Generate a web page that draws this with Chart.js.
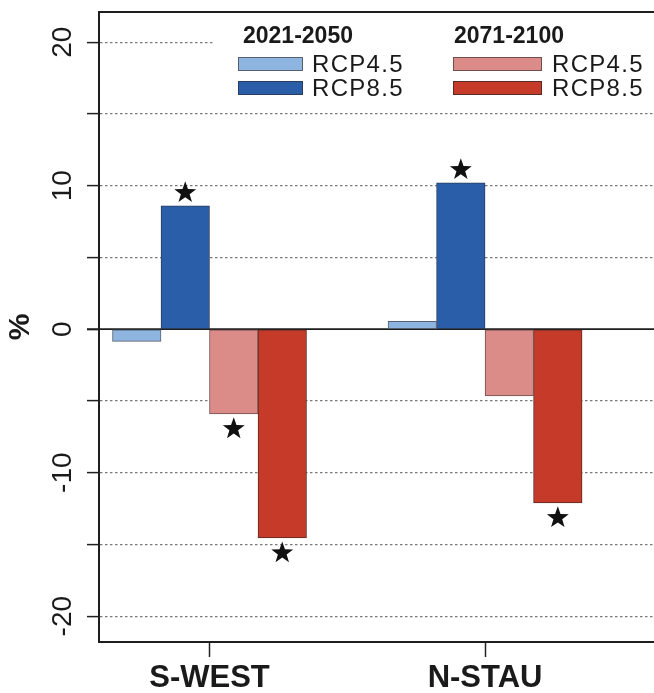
<!DOCTYPE html>
<html><head><meta charset="utf-8">
<script src="https://cdn.jsdelivr.net/npm/chart.js@4/dist/chart.umd.min.js"></script>
<style>
html,body{margin:0;padding:0;background:#fff;overflow:hidden;}
#wrap{width:654px;height:693px;overflow:hidden;position:relative;background:#fff;}
canvas{display:block;}
</style></head><body>
<div id="wrap"><canvas id="c" width="700" height="693"></canvas></div>
<script>
// ---- data ----
const regions = ['S-WEST', 'N-STAU'];
const periods = ['2021-2050', '2071-2100'];
const scenarios = ['RCP4.5', 'RCP8.5'];
const near45 = [-0.85, 0.55];
const near85 = [8.6, 10.2];
const far45 = [-5.9, -4.65];
const far85 = [-14.55, -12.1];
const sigNear45 = [false, false];
const sigNear85 = [true, true];
const sigFar45 = [true, false];
const sigFar85 = [true, true];
const yLabelTicks = [-20, -10, 0, 10, 20];

// ---- styles ----
const colors = ['#8db5df', '#2a5ea8', '#db8c89', '#c63a2a'];
const borders = ['#55606e', '#2a3d5c', '#6e4e4c', '#5a2a24'];
const FONT = '"Liberation Sans", Arial, Helvetica, sans-serif';

const seriesVals = [near45, near85, far45, far85];
const seriesSig = [sigNear45, sigNear85, sigFar45, sigFar85];
const seriesLabels = [
  periods[0] + ' ' + scenarios[0], periods[0] + ' ' + scenarios[1],
  periods[1] + ' ' + scenarios[0], periods[1] + ' ' + scenarios[1]
];

const datasets = seriesVals.map((vals, k) => ({
  label: seriesLabels[k],
  data: vals.map((v, i) => ({x: i, y: v})),
  backgroundColor: colors[k],
  borderColor: borders[k],
  borderWidth: 1,
  borderSkipped: false,
  barThickness: 48.5,
  sig: seriesSig[k]
}));

function starPath(ctx, cx, cy, R, r) {
  ctx.beginPath();
  for (let i = 0; i < 10; i++) {
    const a = -Math.PI / 2 + i * Math.PI / 5;
    const rad = i % 2 === 0 ? R : r;
    const px = cx + rad * Math.cos(a), py = cy + rad * Math.sin(a);
    if (i === 0) ctx.moveTo(px, py); else ctx.lineTo(px, py);
  }
  ctx.closePath();
}

const framePlugin = {
  id: 'frame',
  beforeDatasetsDraw(chart) {
    const {ctx, chartArea: a, scales: {y}} = chart;
    ctx.save();
    ctx.strokeStyle = '#1e1e1e';
    ctx.lineWidth = 1.6;
    const y0 = y.getPixelForValue(0);
    ctx.beginPath(); ctx.moveTo(a.left - 12, y0); ctx.lineTo(a.right, y0); ctx.stroke();
    ctx.restore();
  },
  afterDatasetsDraw(chart) {
    const {ctx} = chart;
    ctx.save();
    ctx.fillStyle = '#111';
    chart.data.datasets.forEach((ds, k) => {
      const meta = chart.getDatasetMeta(k);
      meta.data.forEach((el, i) => {
        if (!ds.sig[i]) return;
        const v = ds.data[i].y;
        const cy = v >= 0 ? el.y - 13 : el.y + 15;
        starPath(ctx, el.x, cy, 11.5, 4.6);
        ctx.fill();
      });
    });
    ctx.restore();
  },
  afterDraw(chart) {
    const {ctx, chartArea: a} = chart;
    ctx.save();
    // legend box
    ctx.fillStyle = '#fff';
    ctx.fillRect(213, a.top + 3, 500, 86);
    // top border
    ctx.strokeStyle = '#1e1e1e';
    ctx.lineWidth = 2;
    ctx.beginPath(); ctx.moveTo(a.left - 1, a.top); ctx.lineTo(a.right, a.top); ctx.stroke();
    const cols = [{hx: 243, sx: 238, sw: 65, tx: 312}, {hx: 454, sx: 453, sw: 89, tx: 552}];
    ctx.textBaseline = 'middle';
    ctx.textAlign = 'left';
    cols.forEach((c, p) => {
      ctx.fillStyle = '#1a1a1a';
      ctx.font = 'bold 23px ' + FONT;
      try { ctx.letterSpacing = '0px'; } catch (e) {}
      ctx.fillText(periods[p], c.hx, 37);
      scenarios.forEach((s, q) => {
        const k = p * 2 + q;
        const yy = 57 + q * 24;
        ctx.fillStyle = colors[k];
        ctx.fillRect(c.sx, yy, c.sw, 14);
        ctx.strokeStyle = borders[k];
        ctx.lineWidth = 1;
        ctx.strokeRect(c.sx + 0.5, yy + 0.5, c.sw - 1, 13);
        ctx.fillStyle = '#1a1a1a';
        ctx.font = '24px ' + FONT;
        try { ctx.letterSpacing = '1.3px'; } catch (e) {}
        ctx.fillText(s, c.tx, yy + 8);
      });
    });
    ctx.restore();
  }
};

new Chart(document.getElementById('c'), {
  type: 'bar',
  data: {datasets},
  plugins: [framePlugin],
  options: {
    responsive: false,
    animation: false,
    devicePixelRatio: 1,
    layout: {padding: {top: 12, right: 0, left: 0, bottom: 0}},
    plugins: {legend: {display: false}, tooltip: {enabled: false}},
    scales: {
      x: {
        type: 'linear', min: -0.401, max: 1.78, offset: false,
        afterBuildTicks: s => { s.ticks = regions.map((r, i) => ({value: i})); },
        afterFit: s => { s.height = 51; s.paddingLeft = 0; s.paddingRight = 0; },
        grid: {display: true, drawOnChartArea: false, drawTicks: true, tickLength: 15,
               tickColor: '#222', tickWidth: 1.5, offset: false},
        border: {display: true, color: '#1e1e1e', width: 2},
        ticks: {callback: (v, i) => regions[i], font: {family: FONT, size: 31, weight: 'bold'},
                color: '#1a1a1a', padding: 3, maxRotation: 0, minRotation: 0, autoSkip: false}
      },
      y: {
        min: -21.8, max: 22.1,
        afterFit: s => { s.width = 99; s.paddingTop = 0; s.paddingBottom = 0; },
        ticks: {stepSize: 5, includeBounds: false, autoSkip: false,
                callback: v => yLabelTicks.includes(v) ? String(v) : '',
                minRotation: 90, maxRotation: 90, crossAlign: 'center', padding: 3,
                font: {family: FONT, size: 28}, color: '#1a1a1a'},
        grid: {color: c => (c.tick && c.tick.value === 0) ? 'rgba(0,0,0,0)' : '#7a7a7a',
               lineWidth: 1.2, tickColor: '#222', tickLength: 12, tickWidth: 1.5, tickBorderDash: []},
        border: {display: true, color: '#1e1e1e', width: 2, dash: [2.5, 2.5]},
        title: {display: true, text: '%', font: {family: FONT, size: 30, weight: 'bold'},
                color: '#1a1a1a', padding: {top: 3, bottom: 0}}
      }
    }
  }
});
</script>
</body></html>
